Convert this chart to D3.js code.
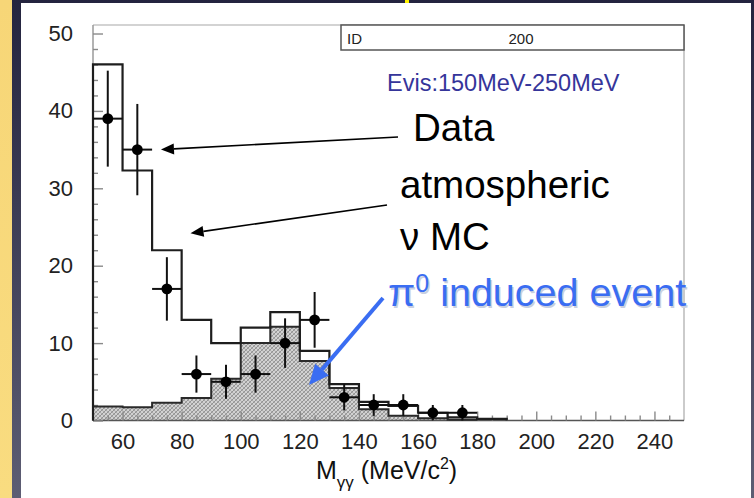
<!DOCTYPE html>
<html>
<head>
<meta charset="utf-8">
<script src="https://cdn.jsdelivr.net/npm/d3@7/dist/d3.min.js"></script>
<style>
  html, body { margin: 0; padding: 0; background: #2a2a44; }
  svg { display: block; }
  text { font-family: "Liberation Sans", Arial, Helvetica, sans-serif; }
</style>
</head>
<body>
<svg id="chart" width="754" height="498"></svg>
<script>
// Bin edges of the M_gamma-gamma histogram (MeV/c^2), 10 MeV bins
const binEdges = [50, 60, 70, 80, 90, 100, 110, 120, 130, 140, 150,
                  160, 170, 180, 190, 200, 210, 220, 230, 240, 250];
// Atmospheric neutrino MC, all events (open histogram)
const mcTotal = [46, 32.3, 22, 13, 10, 12, 14, 9, 4.7, 2.4, 1.9,
                 1, 0.4, 0.2, 0, 0, 0, 0, 0, 0];
// Atmospheric neutrino MC, pi0 induced events (hatched histogram)
const mcPi0 = [1.8, 1.7, 2.3, 2.9, 5.4, 10, 12.1, 7.7, 4.2, 1.45, 0.6,
               0.3, 0.1, 0, 0, 0, 0, 0, 0, 0];
// Data points: bin centres, counts and vertical errors
const dataCenters = [55, 65, 75, 85, 95, 105, 115, 125, 135, 145, 155, 165, 175];
const dataCounts  = [39, 35, 17, 6, 5, 6, 10, 13, 3, 2, 2, 1, 1];
const dataErrors  = [6.2, 5.9, 4.1, 2.4, 2.2, 2.4, 3.2, 3.6, 1.7, 1.4, 1.4, 1, 1];
// Axis ticks
const xMajorTicks = [60, 80, 100, 120, 140, 160, 180, 200, 220, 240];
const yMajorTicks = [0, 10, 20, 30, 40, 50];

const svg = d3.select("#chart");
const W = 754, H = 498;

// ---- slide background ----
const defs = svg.append("defs");
const bg = defs.append("linearGradient").attr("id", "bgGrad")
  .attr("x1", 0).attr("y1", 0).attr("x2", 0).attr("y2", 1);
bg.append("stop").attr("offset", "0%").attr("stop-color", "#24243f");
bg.append("stop").attr("offset", "100%").attr("stop-color", "#5d5d73");
const yel = defs.append("linearGradient").attr("id", "yelGrad")
  .attr("x1", 0).attr("y1", 0).attr("x2", 0).attr("y2", 1);
yel.append("stop").attr("offset", "0%").attr("stop-color", "#f7d677");
yel.append("stop").attr("offset", "100%").attr("stop-color", "#f9dc80");

// cross-hatch fill for the pi0 histogram
const pat = defs.append("pattern").attr("id", "hatch")
  .attr("patternUnits", "userSpaceOnUse").attr("width", 4).attr("height", 4);
pat.append("rect").attr("width", 4).attr("height", 4).attr("fill", "#d2d2d2");
pat.append("path").attr("d", "M0,4 L4,0 M-1,1 L1,-1 M3,5 L5,3")
  .attr("stroke", "#8c8c8c").attr("stroke-width", 0.9);
pat.append("path").attr("d", "M0,0 L4,4 M-1,3 L1,5 M3,-1 L5,1")
  .attr("stroke", "#9a9a9a").attr("stroke-width", 0.7);

svg.append("rect").attr("width", W).attr("height", H).attr("fill", "url(#bgGrad)");
svg.append("rect").attr("x", 0).attr("y", 0).attr("width", 12).attr("height", H)
  .attr("fill", "url(#yelGrad)");
svg.append("rect").attr("x", 21).attr("y", 3).attr("width", 730).attr("height", H - 3)
  .attr("fill", "#ffffff");
svg.append("rect").attr("x", 405).attr("y", 0).attr("width", 4).attr("height", 3)
  .attr("fill", "#fff200");

// ---- scales ----
const x = d3.scaleLinear().domain([50, 250]).range([93, 684]);
const y = d3.scaleLinear().domain([0, 51.1]).range([420.5, 25]);

const g = svg.append("g");

// ---- histograms ----
function stepPoints(values) {
  const pts = [[binEdges[0], 0]];
  values.forEach((v, i) => {
    pts.push([binEdges[i], v]);
    pts.push([binEdges[i + 1], v]);
  });
  // stop the outline after the last non-empty bin
  let last = values.length - 1;
  while (last > 0 && values[last] === 0) last--;
  const cut = pts.slice(0, 2 * (last + 1) + 1);
  cut.push([binEdges[last + 1], 0]);
  return cut;
}
const line = d3.line().x(d => x(d[0])).y(d => y(d[1]));

g.append("path").attr("d", line(stepPoints(mcPi0)) + "Z")
  .attr("fill", "url(#hatch)").attr("stroke", "none");

// ---- frame and ticks ----
const frame = g.append("g");
frame.append("line").attr("x1", x(50)).attr("x2", x(250)).attr("y1", y(51.1)).attr("y2", y(51.1))
  .attr("stroke", "#a8a8a8").attr("stroke-width", 1.2);
frame.append("line").attr("x1", x(250)).attr("x2", x(250)).attr("y1", y(51.1)).attr("y2", y(0))
  .attr("stroke", "#a8a8a8").attr("stroke-width", 1.2);
frame.append("line").attr("x1", x(50)).attr("x2", x(50)).attr("y1", y(51.1)).attr("y2", y(0))
  .attr("stroke", "#9a9a9a").attr("stroke-width", 1.5);
frame.append("line").attr("x1", x(50)).attr("x2", x(250)).attr("y1", y(0)).attr("y2", y(0))
  .attr("stroke", "#555").attr("stroke-width", 1.5);

const xMinor = d3.range(55, 250, 5).filter(v => v % 20 !== 0);
const yMinor = d3.range(2, 51, 2).filter(v => v % 10 !== 0);

const axX = g.append("g").attr("transform", `translate(0,${y(0)})`)
  .call(d3.axisBottom(x).tickValues(xMajorTicks).tickSize(-9).tickPadding(13));
const axXm = g.append("g").attr("transform", `translate(0,${y(0)})`)
  .call(d3.axisBottom(x).tickValues(xMinor).tickSize(-5).tickFormat(""));
const axY = g.append("g").attr("transform", `translate(${x(50)},0)`)
  .call(d3.axisLeft(y).tickValues(yMajorTicks).tickSize(-10).tickPadding(20));
const axYm = g.append("g").attr("transform", `translate(${x(50)},0)`)
  .call(d3.axisLeft(y).tickValues(yMinor).tickSize(-5).tickFormat(""));

[axX, axXm, axY, axYm].forEach(a => {
  a.select(".domain").remove();
  a.selectAll(".tick line").attr("stroke", "#8a8a8a").attr("stroke-width", 1.4);
  a.selectAll(".tick text").attr("font-size", 22).attr("fill", "#222")
    .style("font-family", "'Liberation Sans', Arial, sans-serif");
});

// histogram outlines on top of ticks
g.append("path").attr("d", line(stepPoints(mcPi0)))
  .attr("fill", "none").attr("stroke", "#2a2a2a").attr("stroke-width", 2);
g.append("path").attr("d", line(stepPoints(mcTotal)))
  .attr("fill", "none").attr("stroke", "#1e1e1e").attr("stroke-width", 2.2);

// ---- data points with error bars ----
const pts = g.append("g");
dataCenters.forEach((c, i) => {
  const v = dataCounts[i], e = dataErrors[i];
  pts.append("line").attr("x1", x(c - 5)).attr("x2", x(c + 5)).attr("y1", y(v)).attr("y2", y(v))
    .attr("stroke", "#111").attr("stroke-width", 2);
  pts.append("line").attr("x1", x(c)).attr("x2", x(c)).attr("y1", y(v - e)).attr("y2", y(v + e))
    .attr("stroke", "#111").attr("stroke-width", 2);
  pts.append("circle").attr("cx", x(c)).attr("cy", y(v)).attr("r", 5.4).attr("fill", "#000");
});

// ---- ID box ----
svg.append("rect").attr("x", 341).attr("y", 25).attr("width", 343).attr("height", 25)
  .attr("fill", "#fff").attr("stroke", "#555").attr("stroke-width", 1.5);
svg.append("text").attr("x", 347).attr("y", 44).attr("font-size", 15).attr("fill", "#222").text("ID");
svg.append("text").attr("x", 521).attr("y", 44).attr("font-size", 15).attr("fill", "#222")
  .attr("text-anchor", "middle").text("200");

// ---- axis title ----
const xt = svg.append("text").attr("x", 316).attr("y", 479).attr("font-size", 25).attr("fill", "#111");
xt.append("tspan").text("M");
xt.append("tspan").attr("dy", 9).attr("font-size", 17).text("γγ");
xt.append("tspan").attr("dy", -9).text(" (MeV/c");
xt.append("tspan").attr("dy", -10).attr("font-size", 16).text("2");
xt.append("tspan").attr("dy", 10).text(")");

// ---- annotations ----
svg.append("text").attr("x", 387).attr("y", 91).attr("font-size", 23.5).attr("fill", "#35359a")
  .text("Evis:150MeV-250MeV");
svg.append("text").attr("x", 413).attr("y", 141).attr("font-size", 38.5).attr("fill", "#000").text("Data");
svg.append("text").attr("x", 400).attr("y", 198).attr("font-size", 38.5).attr("fill", "#000").text("atmospheric");
svg.append("text").attr("x", 400).attr("y", 250).attr("font-size", 38.5).attr("fill", "#000").text("ν MC");

const piText = (dx, dy, fill) => {
  const t = svg.append("text").attr("x", 388 + dx).attr("y", 306 + dy).attr("font-size", 39.5).attr("fill", fill);
  t.append("tspan").text("π");
  t.append("tspan").attr("dy", -14).attr("font-size", 25).text("0");
  t.append("tspan").attr("dy", 14).text(" induced event");
};
piText(1.5, 1.5, "#c9cfe0");
piText(0, 0, "#3a6df2");

function arrow(x1, y1, x2, y2, color, width, headLen, headHalf) {
  const ang = Math.atan2(y2 - y1, x2 - x1);
  const bx = x2 - headLen * Math.cos(ang), by = y2 - headLen * Math.sin(ang);
  svg.append("line").attr("x1", x1).attr("y1", y1).attr("x2", bx).attr("y2", by)
    .attr("stroke", color).attr("stroke-width", width);
  const px = -Math.sin(ang) * headHalf, py = Math.cos(ang) * headHalf;
  svg.append("path")
    .attr("d", `M${x2},${y2} L${bx + px},${by + py} L${bx - px},${by - py} Z`)
    .attr("fill", color);
}
// arrows pointing at the data points, the MC histogram and the pi0 component
arrow(398, 137, x(73), y(35), "#000", 1.6, 13, 5.5);
arrow(387, 205, x(83), y(24.2), "#000", 1.6, 13, 5.5);
arrow(383, 298, x(123.1), y(4.6), "#3a6df2", 4, 20, 9);
</script>
</body>
</html>
